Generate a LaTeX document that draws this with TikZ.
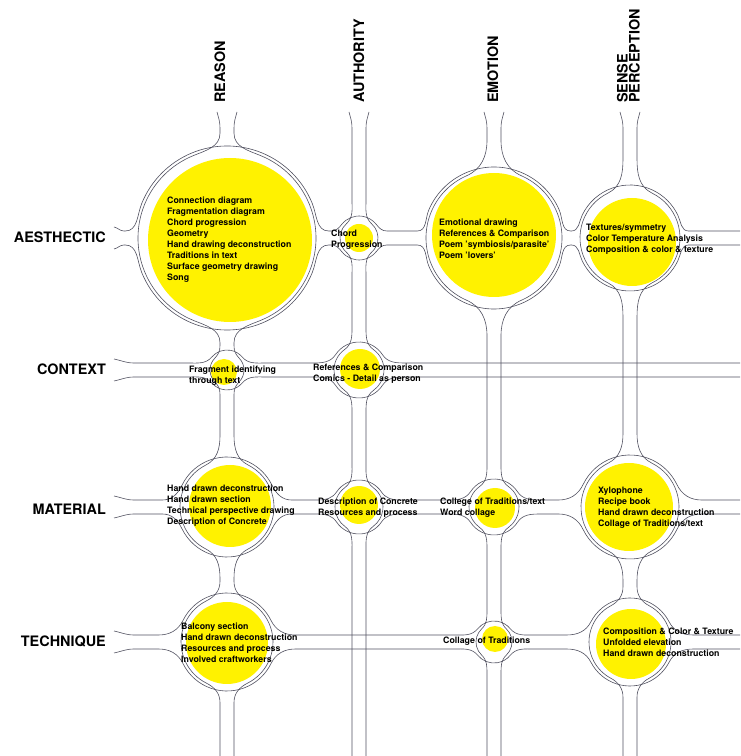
\documentclass[tikz,border=0pt]{standalone}
\usepackage{fontspec}
\setmainfont{TeX Gyre Heros}
\definecolor{blobyellow}{RGB}{255,242,0}
\definecolor{chanline}{RGB}{80,80,95}

\begin{document}
\begin{tikzpicture}[
  x=1pt, y=1pt,
  blob/.style={circle, fill=blobyellow, inner sep=0pt},
  cell/.style={anchor=north west, inner sep=0pt, align=left,
               font=\fontsize{8.8}{11}\selectfont\bfseries},
  lens/.style={inner sep=0pt, font=\fontsize{14.4}{12}\selectfont\bfseries},
  chan/.style={draw=chanline, line width=0.6pt}
]
  \useasboundingbox (0,0) rectangle (740,756);

  %% --- Yellow bubbles ---
  \node[blob, minimum size=164pt] (ra) at (230,516) {};
  \node[blob, minimum size=28pt]  (aa) at (359,518) {};
  \node[blob, minimum size=124pt] (ea) at (494,521) {};
  \node[blob, minimum size=88pt]  (sa) at (632,514) {};
  \node[blob, minimum size=26pt]  (rc) at (224,384) {};
  \node[blob, minimum size=40pt]  (ac) at (360,387) {};
  \node[blob, minimum size=82pt]  (rm) at (230,250) {};
  \node[blob, minimum size=38pt]  (am) at (359,251) {};
  \node[blob, minimum size=40pt]  (em) at (495,248) {};
  \node[blob, minimum size=88pt]  (sm) at (629,249) {};
  \node[blob, minimum size=82pt]  (rt) at (227,113) {};
  \node[blob, minimum size=26pt]  (et) at (495,117) {};
  \node[blob, minimum size=70pt]  (st) at (631,112) {};

  %% --- Column channels (x / bubbles: y, radius, fillet) ---
  \foreach \cx/\bubbles in {
      227/{518/89/16, 386/17/9, 249/47/25, 114/46/15},
      359/{518/19/20, 386/25/20, 249/24/22},
      494/{518/68/30, 249/25/20, 114/18/15},
      630/{518/50/30, 249/49/25, 114/41/15}}{
    \foreach \sd [evaluate=\sd as \fo using -90-15*(\sd),
                  evaluate=\sd as \xt using \cx+10*(\sd),
                  evaluate=\sd as \xl using \cx+7*(\sd)] in {-1,1}{
      \draw[chan] (\xt,644) to[out=\fo, in=90] (\xl,628)
        \foreach \yc/\rad/\fil [evaluate=\rad as \ang using asin((7+0.3*\rad)/\rad),
                                evaluate=\rad as \ya using \yc+sqrt(\rad*\rad-49)+\fil,
                                evaluate=\rad as \yb using \yc-sqrt(\rad*\rad-49)-\fil,
                                evaluate=\rad as \jx using \cx+(\sd)*\rad*sin(\ang),
                                evaluate=\rad as \jy using \yc+\rad*cos(\ang),
                                evaluate=\rad as \sa using 90-(\sd)*\ang,
                                evaluate=\rad as \ea using 90+(\sd)*(\ang-180),
                                evaluate=\rad as \ia using 90+(\sd)*(90-\ang),
                                evaluate=\rad as \oa using 270-(\sd)*(90-\ang)] in \bubbles {
          -- (\xl,\ya)
          to[out=-90, in=\ia] (\jx,\jy)
          arc[start angle=\sa, end angle=\ea, radius=\rad]
          to[out=\oa, in=90] (\xl,\yb)
        }
        -- (\xl,0);
    }
  }

  %% --- Row channels (y / flare end / bubbles: x, radius, fillet) ---
  \foreach \cy/\fx/\bubbles in {
      518/124/{227/92/10, 359/22/7, 494/71/6, 630/53/6},
      386/134/{227/20/20, 359/28/20},
      249/134/{227/50/15, 359/27/15, 494/28/20, 630/52/20},
      114/134/{227/49/20, 494/21/20, 630/44/20}}{
    \foreach \sd [evaluate=\sd as \fo using -12*(\sd),
                  evaluate=\sd as \yt using \cy+11*(\sd),
                  evaluate=\sd as \yl using \cy+7*(\sd)] in {-1,1}{
      \draw[chan] (114,\yt) to[out=\fo, in=180] (\fx,\yl)
        \foreach \xc/\rad/\fil [evaluate=\rad as \ang using asin((7+0.3*\rad)/\rad),
                                evaluate=\rad as \xa using \xc-sqrt(\rad*\rad-49)-\fil,
                                evaluate=\rad as \xb using \xc+sqrt(\rad*\rad-49)+\fil,
                                evaluate=\rad as \jx using \xc-\rad*cos(\ang),
                                evaluate=\rad as \jy using \cy+(\sd)*\rad*sin(\ang),
                                evaluate=\rad as \sa using 180-(\sd)*\ang,
                                evaluate=\rad as \ea using 180-(\sd)*(180-\ang),
                                evaluate=\rad as \ia using 180+(\sd)*(90-\ang),
                                evaluate=\rad as \oa using (\sd)*(\ang-90)] in \bubbles {
          -- (\xa,\yl)
          to[out=0, in=\ia] (\jx,\jy)
          arc[start angle=\sa, end angle=\ea, radius=\rad]
          to[out=\oa, in=180] (\xb,\yl)
        }
        -- (740,\yl);
    }
  }

  %% --- Row labels ---
  \node[lens, anchor=base east] (aesthectic) at (106,513) {AESTHECTIC};
  \node[lens, anchor=base east] (context)    at (106,381) {CONTEXT};
  \node[lens, anchor=base east] (material)   at (106,241) {MATERIAL};
  \node[lens, anchor=base east] (technique)  at (106,109) {TECHNIQUE};

  %% --- Column labels ---
  \node[lens, rotate=90, anchor=base west] (reason)    at (225,653) {REASON};
  \node[lens, rotate=90, anchor=base west] (authority) at (364,653) {AUTHORITY};
  \node[lens, rotate=90, anchor=base west] (emotion)   at (498,653) {EMOTION};
  \node[lens, rotate=90, anchor=south west, align=left]
    (sense) at (640,653) {SENSE\\PERCEPTION};

  %% --- Row 1: Aesthectic ---
  \node[cell] (ra-text) at (167,559.5)
    {Connection diagram\\Fragmentation diagram\\Chord progression\\Geometry\\
     Hand drawing deconstruction\\Traditions in text\\Surface geometry drawing\\Song};
  \node[cell] (aa-text) at (331,526.5) {Chord\\Progression};
  \node[cell] (ea-text) at (439,537.5)
    {Emotional drawing\\References \& Comparison\\Poem 'symbiosis/parasite'\\Poem 'lovers'};
  \node[cell] (sa-text) at (586,532.5)
    {Textures/symmetry\\Color Temperature Analysis\\Composition \& color \& texture};

  %% --- Row 2: Context ---
  \node[cell] (rc-text) at (189,390.5) {Fragment identifying\\through text};
  \node[cell] (ac-text) at (313,392.5)
    {References \& Comparison\\Comics - Detail as person};

  %% --- Row 3: Material ---
  \node[cell] (rm-text) at (167,271.5)
    {Hand drawn deconstruction\\Hand drawn section\\Technical perspective drawing\\
     Description of Concrete};
  \node[cell] (am-text) at (318,258.5) {Description of Concrete\\Resources and process};
  \node[cell] (em-text) at (440,258.5) {College of Traditions/text\\Word collage};
  \node[cell] (sm-text) at (598,269.5)
    {Xylophone\\Recipe book\\Hand drawn deconstruction\\Collage of Traditions/text};

  %% --- Row 4: Technique ---
  \node[cell] (rt-text) at (181,133.5)
    {Balcony section\\Hand drawn deconstruction\\Resources and process\\
     Involved craftworkers};
  \node[cell] (et-text) at (443,119.5) {Collage of Traditions};
  \node[cell] (st-text) at (603,128.5)
    {Composition \& Color \& Texture\\Unfolded elevation\\Hand drawn deconstruction};

\end{tikzpicture}
\end{document}
